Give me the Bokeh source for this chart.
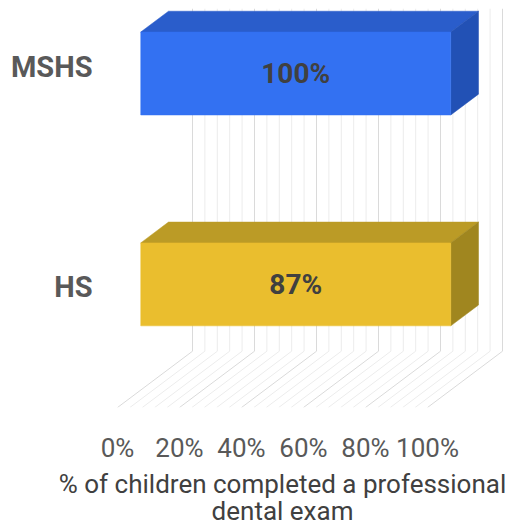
from bokeh.plotting import figure
from bokeh.models import Range1d, FixedTicker, PrintfTickFormatter, LinearAxis
from bokeh.layouts import column
from bokeh.core.properties import value
from bokeh.embed import file_html
from bokeh.resources import INLINE

# ---- data ----
categories = ["HS", "MSHS"]
bar_length = [100, 100]          # drawn bar lengths (% of axis)
data_labels = ["87%", "100%"]    # printed data labels
front_colors = ["#EABE2E", "#3371F2"]
top_colors = ["#BB9B26", "#2A5DCB"]
side_colors = ["#A0861F", "#2251B5"]
tick_values = [0, 20, 40, 60, 80, 100]
title_lines = ["% of children completed a professional", "dental exam"]

# ---- layout constants (pixels) ----
PX_PER = 3.1             # pixels per percent
X0_PAGE = 117            # page x of 0% at the floor front
FRAME_L, FRAME_R = 0, 510
DEPTH_PX = (75.0, 57.0)  # floor depth projection (right, up)
F_FRONT, F_BACK = 0.31, 0.68
CAT_BASE, CAT_STEP = 107.0, 213.5
BAR_H = 84.0
FRAME_H = 404
TOP_B = 8
BOTTOM_B = 53
W = FRAME_R - FRAME_L

DX = DEPTH_PX[0] / PX_PER
DY = DEPTH_PX[1]


def proj(v, y, f):
    return v + f * DX, y + f * DY


def px_to_x(px):
    return (px - X0_PAGE) / PX_PER


xr = Range1d(px_to_x(FRAME_L), px_to_x(FRAME_R))

p = figure(width=W, height=TOP_B + FRAME_H + BOTTOM_B, output_backend="svg",
           toolbar_location=None,
           min_border_left=0, min_border_right=0, min_border_top=TOP_B,
           min_border_bottom=BOTTOM_B,
           x_range=xr, y_range=Range1d(0, FRAME_H),
           x_axis_location=None, y_axis_location=None)
p.outline_line_color = None
p.xgrid.visible = False
p.ygrid.visible = False

# ---- 3D grid: back wall verticals + floor diagonals ----
grid_vals = list(range(0, 101, 4))
gx0, gy0, gx1, gy1, gcol = [], [], [], [], []
fx0, fy0, fx1, fy1 = [], [], [], []
for g in grid_vals:
    bx, by = proj(g, 0, 1.0)
    gx0.append(bx); gy0.append(by); gx1.append(bx); gy1.append(FRAME_H)
    fx0.append(g); fy0.append(0); fx1.append(bx); fy1.append(by)
    gcol.append("#dadada" if g % 20 == 0 else "#ececec")
p.segment(gx0, gy0, gx1, gy1, line_color=gcol, line_width=1)
p.segment(fx0, fy0, fx1, fy1, line_color=gcol, line_width=1)

# ---- bars ----
fxs, fys, txs, tys, sxs, sys_ = [], [], [], [], [], []
lx, ly = [], []
for i, L in enumerate(bar_length):
    yc = CAT_BASE + i * CAT_STEP
    yb, yt = yc - BAR_H / 2, yc + BAR_H / 2
    pts_f = [proj(0, yb, F_FRONT), proj(L, yb, F_FRONT), proj(L, yt, F_FRONT), proj(0, yt, F_FRONT)]
    pts_t = [proj(0, yt, F_FRONT), proj(L, yt, F_FRONT), proj(L, yt, F_BACK), proj(0, yt, F_BACK)]
    pts_s = [proj(L, yb, F_FRONT), proj(L, yt, F_FRONT), proj(L, yt, F_BACK), proj(L, yb, F_BACK)]
    fxs.append([q[0] for q in pts_f]); fys.append([q[1] for q in pts_f])
    txs.append([q[0] for q in pts_t]); tys.append([q[1] for q in pts_t])
    sxs.append([q[0] for q in pts_s]); sys_.append([q[1] for q in pts_s])
    cx, cy = proj(L / 2, yc, F_FRONT)
    lx.append(cx); ly.append(cy)

p.patches(txs, tys, fill_color=top_colors, line_color=top_colors, line_width=0.5)
p.patches(sxs, sys_, fill_color=side_colors, line_color=side_colors, line_width=0.5)
p.patches(fxs, fys, fill_color=front_colors, line_color=front_colors, line_width=0.5)

p.text(lx, ly, text=data_labels, text_font=value("Roboto"), text_font_style="bold",
       text_font_size="28px", text_color="#404040", text_align="center",
       text_baseline="middle")

# ---- category labels ----
cat_y = [122 + i * 223 for i in range(len(categories))]
p.text([px_to_x(92)] * len(categories), cat_y, text=categories,
       text_font=value("Roboto"), text_font_style="bold", text_font_size="29px",
       text_color="#595959", text_align="right", text_baseline="middle")

# ---- value axis (below) ----
xa = LinearAxis(ticker=FixedTicker(ticks=tick_values),
                formatter=PrintfTickFormatter(format="%d%%"))
xa.axis_line_color = None
xa.major_tick_line_color = None
xa.minor_tick_line_color = None
xa.major_label_text_font = "Roboto"
xa.major_label_text_font_size = "26px"
xa.major_label_text_color = "#595959"
xa.major_label_standoff = 19
p.add_layout(xa, "below")

# ---- axis title (separate strip below) ----
T_H = 64
LINE_GAP = 27
t = figure(width=W, height=T_H, output_backend="svg", toolbar_location=None,
           min_border_left=0, min_border_right=0, min_border_top=0,
           min_border_bottom=0, x_range=Range1d(FRAME_L, FRAME_R), y_range=Range1d(0, T_H),
           x_axis_location=None, y_axis_location=None)
t.outline_line_color = None
t.xgrid.visible = False
t.ygrid.visible = False
n = len(title_lines)
t.text([282] * n, [T_H - 18 - i * LINE_GAP for i in range(n)], text=title_lines,
       text_font=value("Roboto"), text_font_size="26px", text_color="#404040",
       text_align="center", text_baseline="middle")

layout = column(p, t, spacing=0)
open("out.html", "w").write(file_html(layout, INLINE))
